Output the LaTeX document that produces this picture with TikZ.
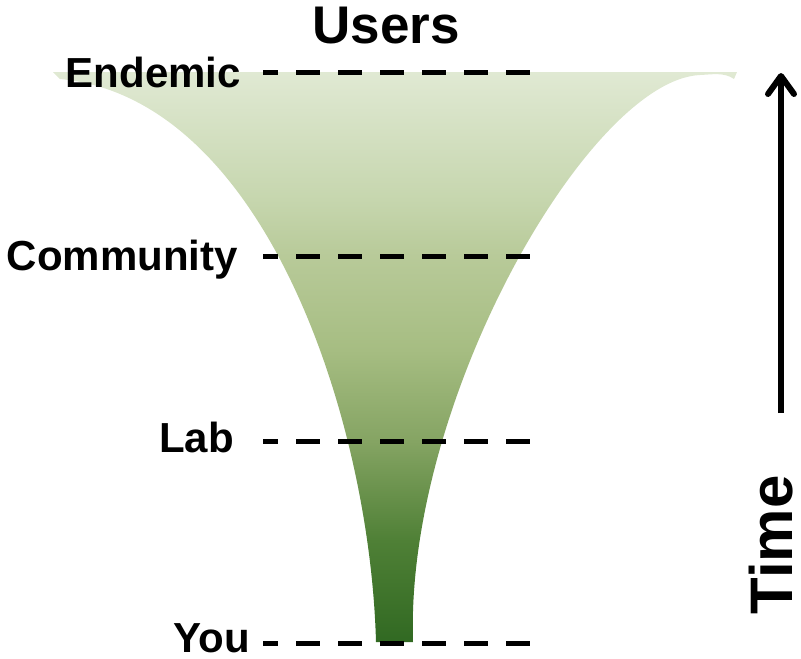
\documentclass[tikz,border=0pt]{standalone}
\usepackage{fontspec}
\setmainfont{Liberation Sans}
\usetikzlibrary{arrows.meta}

% green ramp of the funnel, light at the mouth, dark at the spout
\definecolor{fA}{HTML}{E0E9D3}
\definecolor{fB}{HTML}{C6D6AE}
\definecolor{fC}{HTML}{B8CA99}
\definecolor{fD}{HTML}{A6BD82}
\definecolor{fE}{HTML}{85A463}
\definecolor{fF}{HTML}{4F8036}
\definecolor{fG}{HTML}{316922}
\pgfdeclareverticalshading{funnelgrad}{100bp}{%
  color(0bp)=(fG); color(25bp)=(fG); color(33.9bp)=(fF);
  color(42.6bp)=(fE); color(50.6bp)=(fD); color(58.9bp)=(fC);
  color(63.8bp)=(fB); color(75bp)=(fA); color(100bp)=(fA)}

\begin{document}
\begin{tikzpicture}[x=1pt,y=-1pt,
  lab/.style={font=\fontsize{42}{42}\selectfont\bfseries, inner sep=0pt, anchor=base east},
  level/.style={line width=5pt, dash pattern=on 24pt off 18pt, dash phase=9pt},
  timearrow/.style={line width=6pt, -{Straight Barb[round,length=18pt,width=26pt]}}]
\useasboundingbox (0,0) rectangle (801,659);

% funnel
\shade[shading=funnelgrad] (53,72) -- (737,72) -- (734,79)
  .. controls (724,72) and (712,74.5) .. (700,75)
  .. controls (590,80) and (405,400) .. (413,642)
  -- (376,642)
  .. controls (370,420) and (265,98) .. (60,79)
  -- cycle;

% title
\node[font=\fontsize{53}{53}\selectfont\bfseries, inner sep=0pt, anchor=base] (users) at (386,43) {Users};

% levels
\node[lab] (endemic) at (241,87) {Endemic};
\node[lab] (community) at (238,270) {Community};
\node[lab] (lab) at (234,452) {Lab};
\node[lab] (you) at (250,652) {You};

\coordinate (endemicA) at (263,72);   \coordinate (endemicB) at (530,72);
\coordinate (communityA) at (263,256); \coordinate (communityB) at (530,256);
\coordinate (labA) at (263,441);       \coordinate (labB) at (530,441);
\coordinate (youA) at (263,643);       \coordinate (youB) at (530,643);

\draw[level] (endemicA) -- (endemicB);
\draw[level] (communityA) -- (communityB);
\draw[level] (labA) -- (labB);
\draw[level] (youA) -- (youB);

% time axis
\coordinate (tstart) at (781,413);
\coordinate (tend) at (781,73);
\draw[timearrow] (tstart) -- (tend);
\node[rotate=90, anchor=base, font=\fontsize{60}{60}\selectfont\bfseries, inner sep=0pt] (time) at (792,545) {Time};
\end{tikzpicture}
\end{document}
